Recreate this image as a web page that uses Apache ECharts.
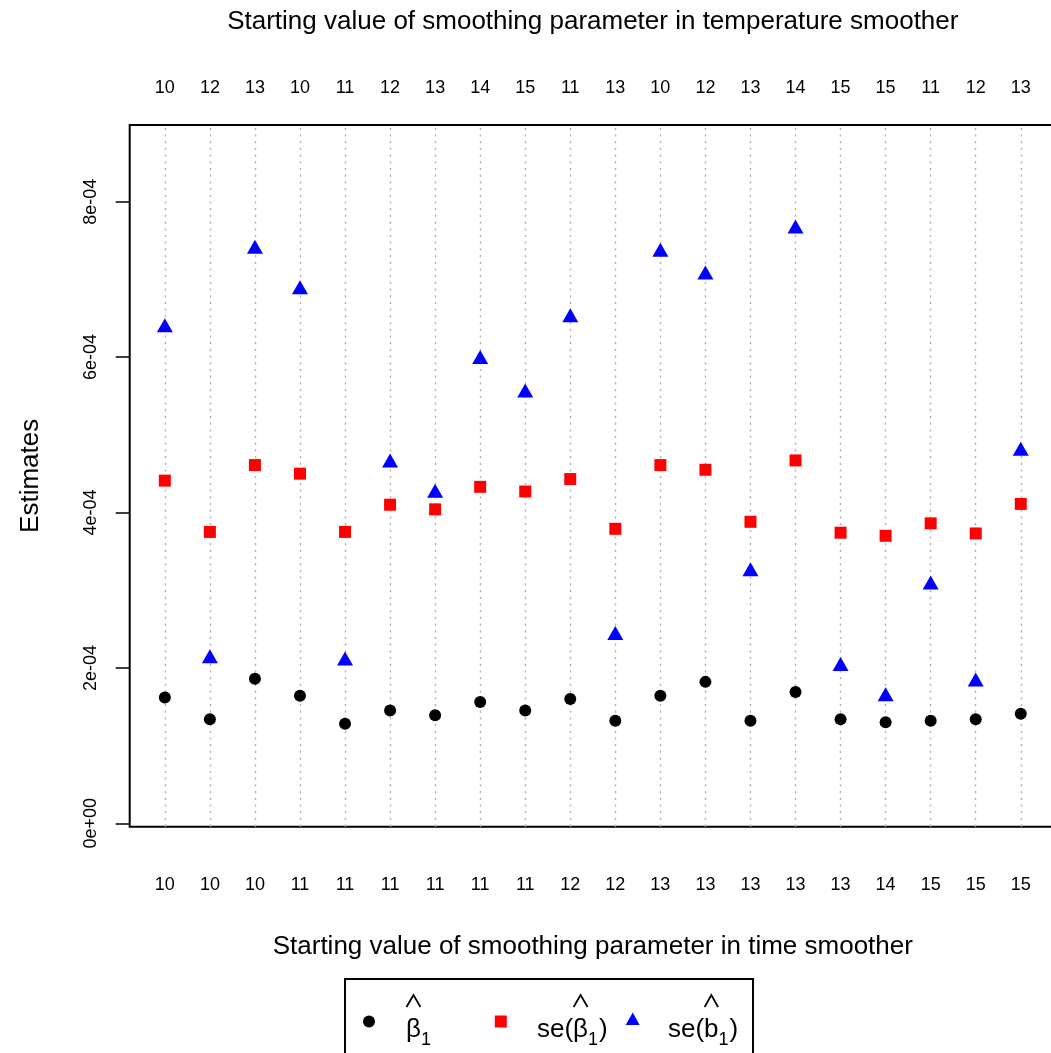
<!DOCTYPE html>
<html>
<head>
<meta charset="utf-8">
<script src="https://cdn.jsdelivr.net/npm/echarts@6/dist/echarts.min.js"></script>
<style>
  html, body { margin: 0; padding: 0; background: #ffffff; }
  #chart { width: 1051px; height: 1053px; }
</style>
</head>
<body>
<div id="chart"></div>
<script>
// Starting values of the two smoothing parameters for each of the 20 fits
const timeStart = [10, 10, 10, 11, 11, 11, 11, 11, 11, 12, 12, 13, 13, 13, 13, 13, 14, 15, 15, 15];
const tempStart = [10, 12, 13, 10, 11, 12, 13, 14, 15, 11, 13, 10, 12, 13, 14, 15, 15, 11, 12, 13];

// Estimates for each fit
const betaHat   = [1.62e-4, 1.34e-4, 1.86e-4, 1.64e-4, 1.28e-4, 1.45e-4, 1.39e-4, 1.56e-4, 1.45e-4, 1.60e-4,
                   1.32e-4, 1.64e-4, 1.82e-4, 1.32e-4, 1.69e-4, 1.34e-4, 1.30e-4, 1.32e-4, 1.34e-4, 1.41e-4];
const seBetaHat = [4.41e-4, 3.75e-4, 4.61e-4, 4.50e-4, 3.75e-4, 4.10e-4, 4.04e-4, 4.33e-4, 4.27e-4, 4.43e-4,
                   3.79e-4, 4.61e-4, 4.55e-4, 3.88e-4, 4.67e-4, 3.74e-4, 3.70e-4, 3.86e-4, 3.73e-4, 4.11e-4];
const seBHat    = [6.38e-4, 2.12e-4, 7.39e-4, 6.87e-4, 2.09e-4, 4.64e-4, 4.25e-4, 5.97e-4, 5.54e-4, 6.51e-4,
                   2.42e-4, 7.35e-4, 7.06e-4, 3.24e-4, 7.65e-4, 2.02e-4, 1.63e-4, 3.07e-4, 1.82e-4, 4.79e-4];

// Y axis tick positions and their labels
const yTickValues = [0, 2e-4, 4e-4, 6e-4, 8e-4];
const yTickLabels = ['0e+00', '2e-04', '4e-04', '6e-04', '8e-04'];

const FONT = "'Liberation Sans', Arial, Helvetica, sans-serif";
const fitIndex = timeStart.map((_, i) => i + 1);
const toPoints = arr => arr.map((v, i) => [i + 1, v]);

const chart = echarts.init(document.getElementById('chart'), null, { renderer: 'canvas' });

// ---- legend drawn as graphics so the hats and subscripts can be laid out ----
const measureCtx = document.createElement('canvas').getContext('2d');
function textWidth(t, size) {
  measureCtx.font = size + 'px ' + FONT;
  return measureCtx.measureText(t).width;
}
function mathLabel(parts, x0, baseline) {
  const els = [];
  let x = x0;
  const main = 26, sub = 18;
  parts.forEach(p => {
    const size = p.sub ? sub : main;
    const w = textWidth(p.t, size);
    const y = p.sub ? baseline + 6 : baseline;
    els.push({
      type: 'text', silent: true,
      style: { text: p.t, x: x, y: y, font: size + 'px ' + FONT, fill: '#000',
               textAlign: 'left', textVerticalAlign: 'bottom', verticalAlign: 'bottom' }
    });
    if (p.hat) {
      const top = baseline - 48;
      els.push({
        type: 'polyline', silent: true,
        shape: { points: [[x + 0.5, top + 12], [x + w / 2, top], [x + w - 0.5, top + 12]] },
        style: { stroke: '#000', lineWidth: 1.8, fill: null }
      });
    }
    x += w + (p.sub ? 1 : 0);
  });
  return els;
}

const legendY = 1021.5;
const legendBase = 1043;
const legendGraphics = [
  { type: 'rect', silent: true, shape: { x: 345, y: 979, width: 408, height: 120 },
    style: { fill: null, stroke: '#000', lineWidth: 2 } },
  { type: 'circle', silent: true, shape: { cx: 369, cy: legendY, r: 6 }, style: { fill: '#000' } },
  { type: 'rect', silent: true, shape: { x: 494.8, y: legendY - 6, width: 12, height: 12 }, style: { fill: '#ff0000' } },
  { type: 'polygon', silent: true,
    shape: { points: [[632.7, legendY - 9], [639.7, legendY + 3.5], [625.7, legendY + 3.5]] },
    style: { fill: '#0000ff' } }
]
  .concat(mathLabel([{ t: 'β', hat: true }, { t: '1', sub: true }], 406, legendBase))
  .concat(mathLabel([{ t: 'se(' }, { t: 'β', hat: true }, { t: '1', sub: true }, { t: ')' }], 537, legendBase))
  .concat(mathLabel([{ t: 'se(' }, { t: 'b', hat: true }, { t: '1', sub: true }, { t: ')' }], 668, legendBase));

const xMin = 0.22, xMax = 20.78;

const option = {
  backgroundColor: '#ffffff',
  animation: false,
  textStyle: { fontFamily: FONT },
  grid: {
    left: 129.7, top: 125, width: 926.2, height: 701.7,
    show: true, borderColor: '#000', borderWidth: 2, backgroundColor: 'transparent',
    outerBoundsMode: 'none', containLabel: false
  },
  xAxis: [
    {
      type: 'value', position: 'bottom', min: xMin, max: xMax,
      axisLine: { show: false }, axisTick: { show: false }, splitLine: { show: false },
      axisLabel: {
        customValues: fitIndex, formatter: v => String(timeStart[Math.round(v) - 1]),
        margin: 49, fontSize: 18, color: '#000', fontFamily: FONT
      },
      name: 'Starting value of smoothing parameter in time smoother',
      nameLocation: 'middle', nameGap: 107, nameMoveOverlap: false,
      nameTextStyle: { fontSize: 26, color: '#000', fontFamily: FONT }
    },
    {
      type: 'value', position: 'top', min: xMin, max: xMax,
      axisLine: { show: false }, axisTick: { show: false }, splitLine: { show: false },
      axisLabel: {
        customValues: fitIndex, formatter: v => String(tempStart[Math.round(v) - 1]),
        margin: 28, fontSize: 18, color: '#000', fontFamily: FONT
      },
      name: 'Starting value of smoothing parameter in temperature smoother',
      nameLocation: 'middle', nameGap: 90, nameMoveOverlap: false,
      nameTextStyle: { fontSize: 26, color: '#000', fontFamily: FONT }
    }
  ],
  yAxis: {
    type: 'value', min: -4.4e-6, max: 8.987e-4,
    axisLine: { show: false }, splitLine: { show: false },
    axisTick: { show: true, customValues: yTickValues, length: 14, lineStyle: { color: '#000', width: 1.5 } },
    axisLabel: {
      customValues: yTickValues,
      formatter: v => yTickLabels[yTickValues.findIndex(t => Math.abs(t - v) < 1e-9)],
      rotate: 90, margin: 30, fontSize: 18, color: '#000', fontFamily: FONT
    },
    name: 'Estimates', nameLocation: 'middle', nameGap: 86, nameRotate: 90, nameMoveOverlap: false,
    nameTextStyle: { fontSize: 26, color: '#000', fontFamily: FONT }
  },
  series: [
    {
      // dotted guide lines at each fit, kept beneath the markers
      type: 'line', data: [], z: 1, silent: true,
      markLine: {
        z: 1, silent: true, symbol: ['none', 'none'], animation: false,
        label: { show: false },
        lineStyle: { color: '#b2b2b2', type: [2.2, 4.5], width: 1.4, opacity: 1 },
        emphasis: { disabled: true },
        data: fitIndex.map(i => ({ xAxis: i }))
      }
    },
    {
      name: 'β̂1', type: 'scatter', z: 3, data: toPoints(betaHat),
      symbol: 'circle', symbolSize: 12, itemStyle: { color: '#000000', opacity: 1 }
    },
    {
      name: 'se(β̂1)', type: 'scatter', z: 4, data: toPoints(seBetaHat),
      symbol: 'rect', symbolSize: 12, itemStyle: { color: '#ff0000', opacity: 1 }
    },
    {
      name: 'se(b̂1)', type: 'scatter', z: 5, data: toPoints(seBHat),
      symbol: 'triangle', symbolSize: [16, 14], symbolOffset: [0, -2.33],
      itemStyle: { color: '#0000ff', opacity: 1 }
    }
  ],
  graphic: legendGraphics
};

chart.setOption(option);
</script>
</body>
</html>
